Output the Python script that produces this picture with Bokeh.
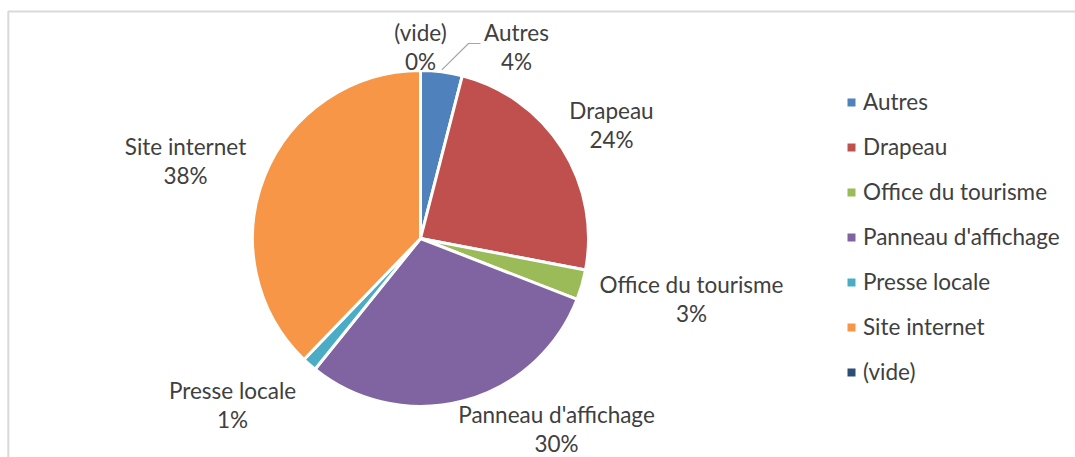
import math
from bokeh.plotting import figure
from bokeh.models import ColumnDataSource, Range1d, Legend, LegendItem, CDSView, BooleanFilter
from bokeh.core.properties import value
from bokeh.embed import file_html
from bokeh.resources import INLINE

# ---- data ----
categories = ["Autres", "Drapeau", "Office du tourisme", "Panneau d'affichage",
              "Presse locale", "Site internet", "(vide)"]
shares = [4.0, 24.0, 2.9, 29.9, 1.4, 37.8, 0.0]
colors = ["#4F81BD", "#C0504D", "#9BBB59", "#8064A2", "#4BACC6", "#F79646", "#2C4D75"]

# ---- layout (pixels of the picture) ----
W, H = 1075, 457
CX, CY, R = 420, 238, 168
label_pos = [(516, 32), (611, 110), (691, 284), (556, 414), (232, 390), (185, 146), (420, 32)]
LINE_GAP = 29
FONT = "Lato"
FS = "22.5px"
TXT = "#404040"

def sy(y):  # picture y -> data y
    return H - y

total = sum(shares)
starts, ends, mids = [], [], []
cum = 0.0
for s in shares:
    a0 = math.pi / 2 - 2 * math.pi * (cum + s) / total
    a1 = math.pi / 2 - 2 * math.pi * cum / total
    starts.append(a0)
    ends.append(a1)
    mids.append((a0 + a1) / 2)
    cum += s

src = ColumnDataSource(dict(cat=categories, share=shares, color=colors,
                            start=starts, end=ends))
view = CDSView(filter=BooleanFilter([s > 0 for s in shares]))

p = figure(width=W, height=H, output_backend="svg", toolbar_location=None,
           x_range=Range1d(0, W), y_range=Range1d(0, H),
           x_axis_type=None, y_axis_type=None, min_border=0)
p.grid.visible = False
p.outline_line_color = None
p.background_fill_color = "white"

# chart frame (left and top edges visible)
p.line(x=[7.8, 7.8, W], y=[0, sy(11), sy(11)], line_color="#D9D9D9", line_width=2)

pie = p.wedge(x=CX, y=sy(CY), radius=R, radius_units="screen",
              start_angle="start", end_angle="end",
              fill_color="color", line_color="white", line_width=3,
              source=src, view=view)

# data labels (name line + percentage line)
lx = [q[0] for q in label_pos]
ly1 = [sy(q[1]) for q in label_pos]
ly2 = [sy(q[1] + LINE_GAP) for q in label_pos]
pct = [f"{round(s)}%" for s in shares]
p.text(x=lx, y=ly1, text=categories, text_align="center", text_baseline="middle",
       text_font=value(FONT), text_font_size=FS, text_color=TXT)
p.text(x=lx, y=ly2, text=pct, text_align="center", text_baseline="middle",
       text_font=value(FONT), text_font_size=FS, text_color=TXT)

# leader line for "Autres"
m = mids[0]
ex, ey = CX + (R + 2) * math.cos(m), sy(CY) + (R + 2) * math.sin(m)
p.line(x=[ex, 468, 480], y=[ey, sy(43), sy(43)], line_color="#A6A6A6", line_width=1.2)

# legend swatches (renderer with no visible marks, only used by the legend)
nan = float("nan")
n = len(categories)
lsrc = ColumnDataSource(dict(l=[nan] * n, r=[nan] * n, b=[nan] * n, t=[nan] * n,
                             color=colors))
sw = p.quad(left="l", right="r", bottom="b", top="t", fill_color="color",
            line_color=None, source=lsrc)
items = [LegendItem(label=c, renderers=[sw], index=i) for i, c in enumerate(categories)]
legend = Legend(items=items, location=(846, 72), orientation="vertical",
                glyph_width=10, glyph_height=10, label_standoff=7,
                spacing=18, padding=0, margin=0, border_line_color=None,
                background_fill_alpha=0,
                label_text_font=FONT, label_text_font_size=FS, label_text_color=TXT,
                label_height=27)
p.add_layout(legend, "center")

open("out.html", "w").write(file_html(p, INLINE))
